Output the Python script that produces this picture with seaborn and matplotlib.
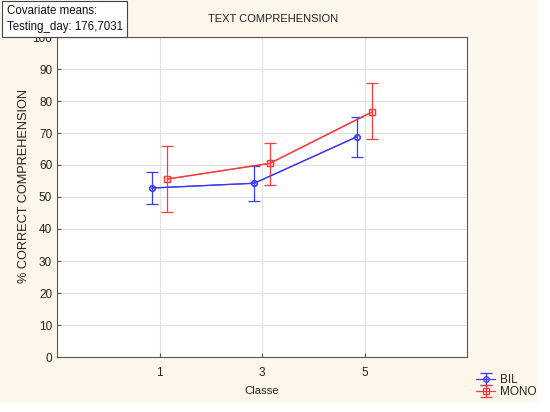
import numpy as np
import pandas as pd
import matplotlib
matplotlib.use('Agg')
import matplotlib.pyplot as plt
import seaborn as sns
from matplotlib.patches import Rectangle

# data
classes = ["1", "3", "5"]
groups = ["BIL", "MONO"]
bil_mean = [52.8, 54.3, 68.8]
bil_low = [47.8, 48.8, 62.4]
bil_high = [57.9, 59.7, 75.1]
mono_mean = [55.6, 60.5, 76.6]
mono_low = [45.2, 53.8, 68.0]
mono_high = [66.0, 67.0, 85.6]
covariate_text = "Covariate means:\nTesting_day: 176,7031"

df = pd.DataFrame({
    "Classe": classes * 2,
    "group": ["BIL"] * 3 + ["MONO"] * 3,
    "value": bil_mean + mono_mean,
})

sns.set_style("whitegrid")
plt.rcParams['font.family'] = ['Liberation Sans', 'DejaVu Sans']
plt.rcParams['font.size'] = 8

cream = "#fcf7ea"
colors = {"BIL": "#3a3aff", "MONO": "#ff3a3a"}

fig = plt.figure(figsize=(5.5, 4.12), dpi=100, facecolor="white")
fig.patches.append(Rectangle((0, 10 / 412), 537 / 550, 402 / 412, transform=fig.transFigure,
                             facecolor=cream, edgecolor="none", zorder=-10))
ax = fig.add_axes([57 / 550, 1 - 357 / 412, 410 / 550, 320 / 412])

sns.pointplot(data=df, x="Classe", y="value", hue="group", order=classes,
              hue_order=groups, palette=colors, markers=["o", "s"],
              dodge=0.15, errorbar=None, linewidth=0.9, markersize=4,
              markerfacecolor="none", markeredgewidth=0.9, legend=False, ax=ax)

handles = []
for g, mean, lo, hi, off in [("BIL", bil_mean, bil_low, bil_high, -0.075),
                             ("MONO", mono_mean, mono_low, mono_high, 0.075)]:
    xs = np.arange(len(classes)) + off
    mean = np.array(mean)
    err = [mean - np.array(lo), np.array(hi) - mean]
    h = ax.errorbar(xs, mean, yerr=err, fmt="o" if g == "BIL" else "s",
                    color=colors[g], mfc="none", ms=4, mew=0.9,
                    elinewidth=0.9, capsize=4, capthick=0.9, ls="-", lw=0.9)
    handles.append(h)

ax.set_xlim(-1, 3)
ax.set_ylim(0, 100)
ax.set_yticks(range(0, 101, 10))
ax.set_xlabel("Classe", fontsize=8.2, color="#222222", labelpad=5)
ax.set_ylabel("% CORRECT COMPREHENSION", fontsize=9.2, color="#222222")
ax.yaxis.set_label_coords(-0.067, 0.534)
ax.grid(True, color="#e2e2e2", linewidth=0.8)
for s in ax.spines.values():
    s.set_color("#555555")
    s.set_linewidth(0.8)
ax.tick_params(direction="in", length=3, color="#555555", labelsize=8.5,
               labelcolor="#222222", left=True, bottom=True)
ax.tick_params(axis="x", pad=7)
ax.set_facecolor("white")

fig.text(0.497, 0.955, "TEXT COMPREHENSION", ha="center", va="center",
         fontsize=8, color="#222222")
fig.text(0.012, 0.954, covariate_text, ha="left", va="center", fontsize=8.3,
         color="#111111", linespacing=1.4, zorder=10,
         bbox=dict(boxstyle="square,pad=0.4", facecolor="white",
                   edgecolor="#444444", linewidth=0.8))

fig.legend(handles, groups, loc="lower left", bbox_to_anchor=(468 / 550, 1 - 406 / 412),
           frameon=False, fontsize=8.5, handlelength=1.6, handletextpad=0.4,
           labelspacing=0.0, borderpad=0.2)

fig.savefig("out.png", dpi=100, facecolor=fig.get_facecolor())
